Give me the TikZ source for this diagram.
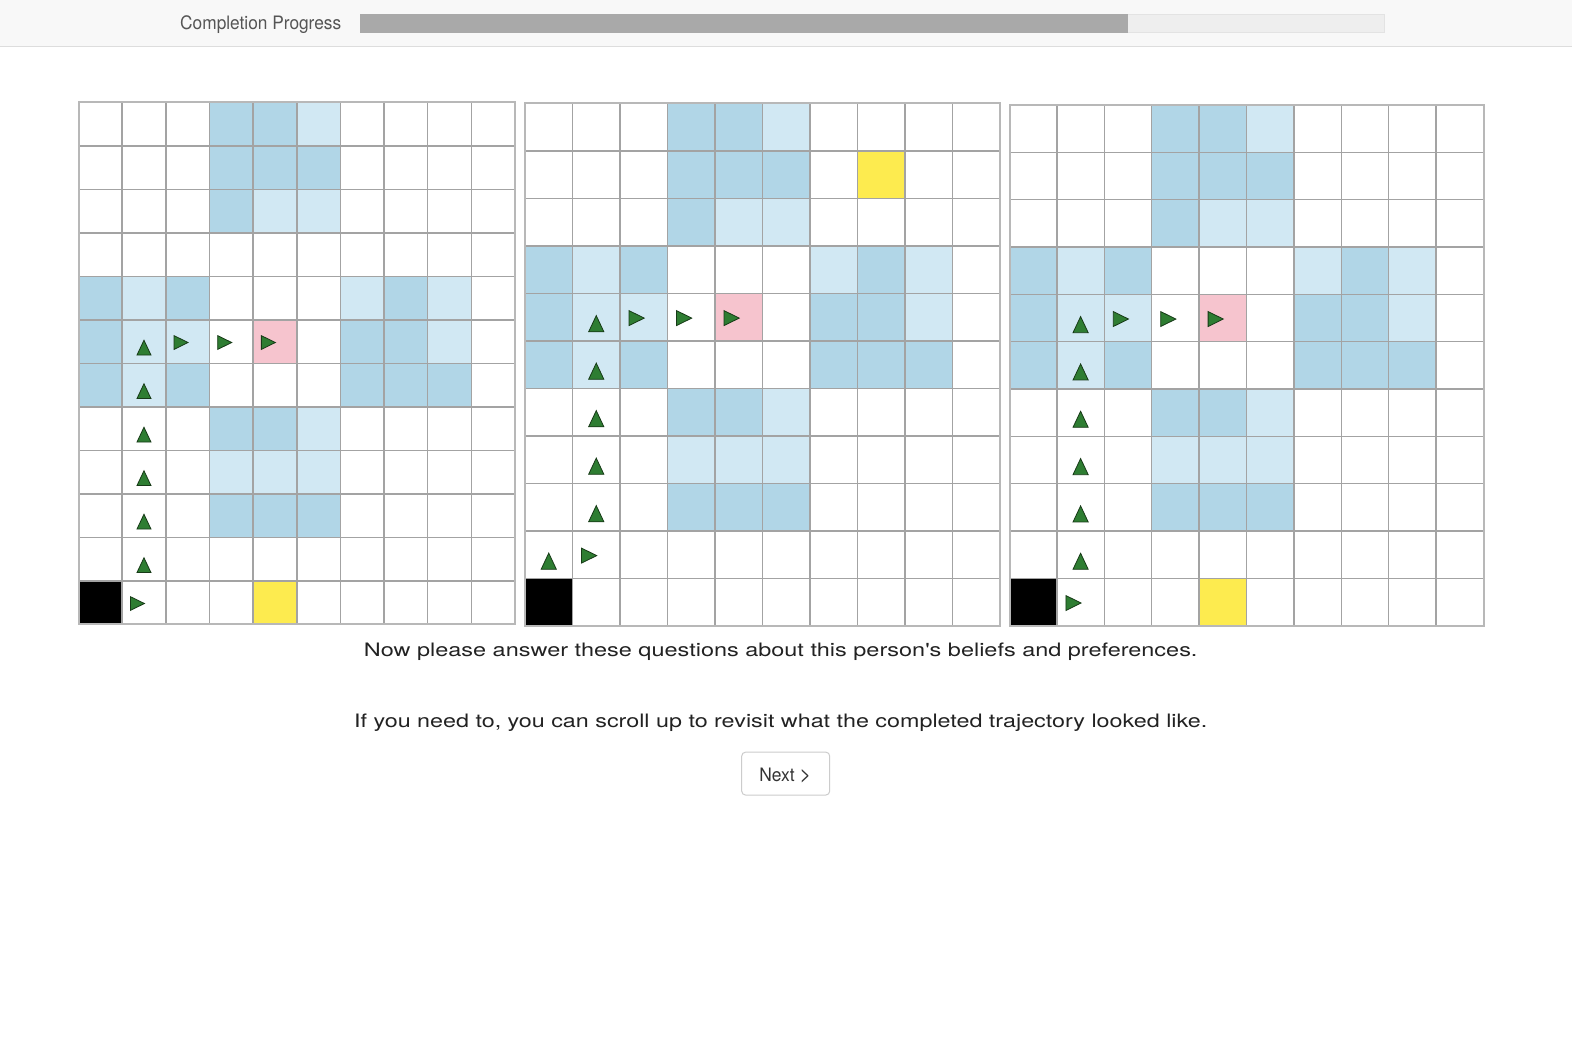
\documentclass[tikz,border=0pt]{standalone}
\usepackage{fontspec}
\setmainfont{TeX Gyre Heros}
\usepackage{graphicx}
\definecolor{cdark}{HTML}{B1D6E7}
\definecolor{clight}{HTML}{D1E8F3}
\definecolor{cpink}{HTML}{F6C4CE}
\definecolor{cyellow}{HTML}{FDEB4F}
\definecolor{cgline}{HTML}{A3A3A3}
\definecolor{cframe}{HTML}{B8B8B8}
\definecolor{ctrifill}{HTML}{2E7D32}
\definecolor{ctriline}{HTML}{173A17}
\definecolor{chead}{HTML}{F8F8F8}
\definecolor{cheadline}{HTML}{DDDDDD}
\definecolor{cbarfull}{HTML}{A9A9A9}
\definecolor{cbarempty}{HTML}{EEEEEE}
\definecolor{cbarline}{HTML}{E3E3E3}
\definecolor{ctext}{HTML}{222222}
\definecolor{cprog}{HTML}{555555}
\definecolor{cbtn}{HTML}{CCCCCC}
\definecolor{cbtntext}{HTML}{333333}
\tikzset{
  gline/.style={draw=cgline,line width=1.5pt},
  gframe/.style={draw=cframe,line width=2pt},
  tri/.style={fill=ctrifill,draw=ctriline,line width=0.8pt,line join=miter},
  txt/.style={inner sep=0pt,font=\fontsize{18.5}{22}\selectfont},
  btnbox/.style={draw=cbtn,fill=white,line width=1pt,rounded corners=4pt,minimum width=88pt,minimum height=43pt,inner sep=0pt}
}
\newcommand\uptri[2]{\filldraw[tri] (#1+0.34,#2+0.81) -- (#1+0.66,#2+0.81) -- (#1+0.5,#2+0.47) -- cycle;}
\newcommand\rttri[2]{\filldraw[tri] (#1+0.19,#2+0.365) -- (#1+0.51,#2+0.522) -- (#1+0.19,#2+0.68) -- cycle;}
\begin{document}
\begin{tikzpicture}[x=1pt,y=-1pt]
\useasboundingbox (0,0) rectangle (1572,1054);
\fill[white] (0,0) rectangle (1572,1054);
% header
\fill[chead] (0,0) rectangle (1572,46);
\draw[cheadline,line width=1.5pt] (0,46.5) -- (1572,46.5);
\fill[cbarempty,draw=cbarline,line width=0.6pt] (360,14.3) rectangle (1384,32.7);
\fill[cbarfull] (360,14.3) rectangle (1128,32.7);
\node[txt,anchor=base west,text=cprog] (prog) at (180,30) {\resizebox{161pt}{\height}{Completion Progress}};

% grid 1
\begin{scope}[xshift=78.5pt,yshift=-102.3pt,x=43.65pt,y=-43.5pt]
 \foreach \cc/\rr in {3/0,4/0,3/1,4/1,5/1,3/2,0/4,2/4,7/4,0/5,6/5,7/5,0/6,2/6,6/6,7/6,8/6,3/7,4/7,3/9,4/9,5/9}
   {\fill[cdark] (\cc,\rr) rectangle ++(1,1);}
 \foreach \cc/\rr in {5/0,4/2,5/2,1/4,6/4,8/4,1/5,2/5,8/5,1/6,5/7,3/8,4/8,5/8}
   {\fill[clight] (\cc,\rr) rectangle ++(1,1);}
 \fill[cpink] (4,5) rectangle ++(1,1);
 \fill[cyellow] (4,11) rectangle ++(1,1);
 \fill[black] (0,11) rectangle ++(1,1);
 \foreach \i in {1,...,9} {\draw[gline] (\i,0) -- (\i,12);}
 \foreach \j in {1,...,11} {\draw[gline] (0,\j) -- (10,\j);}
 \draw[gframe] (0,0) rectangle (10,12);
 \foreach \cc/\rr in {1/5,1/6,1/7,1/8,1/9,1/10} {\uptri{\cc}{\rr}}
 \foreach \cc/\rr in {2/5,3/5,4/5,1/11} {\rttri{\cc}{\rr}}
\end{scope}

% grid 2
\begin{scope}[xshift=525pt,yshift=-103.3pt,x=47.5pt,y=-47.5pt]
 \foreach \cc/\rr in {3/0,4/0,3/1,4/1,5/1,3/2,0/3,2/3,7/3,0/4,6/4,7/4,0/5,2/5,6/5,7/5,8/5,3/6,4/6,3/8,4/8,5/8}
   {\fill[cdark] (\cc,\rr) rectangle ++(1,1);}
 \foreach \cc/\rr in {5/0,4/2,5/2,1/3,6/3,8/3,1/4,2/4,8/4,1/5,5/6,3/7,4/7,5/7}
   {\fill[clight] (\cc,\rr) rectangle ++(1,1);}
 \fill[cpink] (4,4) rectangle ++(1,1);
 \fill[cyellow] (7,1) rectangle ++(1,1);
 \fill[black] (0,10) rectangle ++(1,1);
 \foreach \i in {1,...,9} {\draw[gline] (\i,0) -- (\i,11);}
 \foreach \j in {1,...,10} {\draw[gline] (0,\j) -- (10,\j);}
 \draw[gframe] (0,0) rectangle (10,11);
 \foreach \cc/\rr in {1/4,1/5,1/6,1/7,1/8,0/9} {\uptri{\cc}{\rr}}
 \foreach \cc/\rr in {2/4,3/4,4/4,1/9} {\rttri{\cc}{\rr}}
\end{scope}

% grid 3
\begin{scope}[xshift=1009.5pt,yshift=-105pt,x=47.4pt,y=-47.33pt]
 \foreach \cc/\rr in {3/0,4/0,3/1,4/1,5/1,3/2,0/3,2/3,7/3,0/4,6/4,7/4,0/5,2/5,6/5,7/5,8/5,3/6,4/6,3/8,4/8,5/8}
   {\fill[cdark] (\cc,\rr) rectangle ++(1,1);}
 \foreach \cc/\rr in {5/0,4/2,5/2,1/3,6/3,8/3,1/4,2/4,8/4,1/5,5/6,3/7,4/7,5/7}
   {\fill[clight] (\cc,\rr) rectangle ++(1,1);}
 \fill[cpink] (4,4) rectangle ++(1,1);
 \fill[cyellow] (4,10) rectangle ++(1,1);
 \fill[black] (0,10) rectangle ++(1,1);
 \foreach \i in {1,...,9} {\draw[gline] (\i,0) -- (\i,11);}
 \foreach \j in {1,...,10} {\draw[gline] (0,\j) -- (10,\j);}
 \draw[gframe] (0,0) rectangle (10,11);
 \foreach \cc/\rr in {1/4,1/5,1/6,1/7,1/8,1/9} {\uptri{\cc}{\rr}}
 \foreach \cc/\rr in {2/4,3/4,4/4,1/10} {\rttri{\cc}{\rr}}
\end{scope}

% texts
\node[txt,anchor=base,text=ctext] (q1) at (780.7,656.5) {\resizebox{833.5pt}{\height}{Now please answer these questions about this person\textquotesingle s beliefs and preferences.}};
\node[txt,anchor=base,text=ctext] (q2) at (780.7,727.3) {\resizebox{853pt}{\height}{If you need to, you can scroll up to revisit what the completed trajectory looked like.}};
\node[btnbox] (next) at (785.7,773.6) {};
\node[txt,anchor=base,text=cbtntext] (nexttxt) at (785.2,781.7) {\resizebox{51.7pt}{\height}{Next {\fontsize{21}{22}\selectfont >}}};
\end{tikzpicture}
\end{document}
